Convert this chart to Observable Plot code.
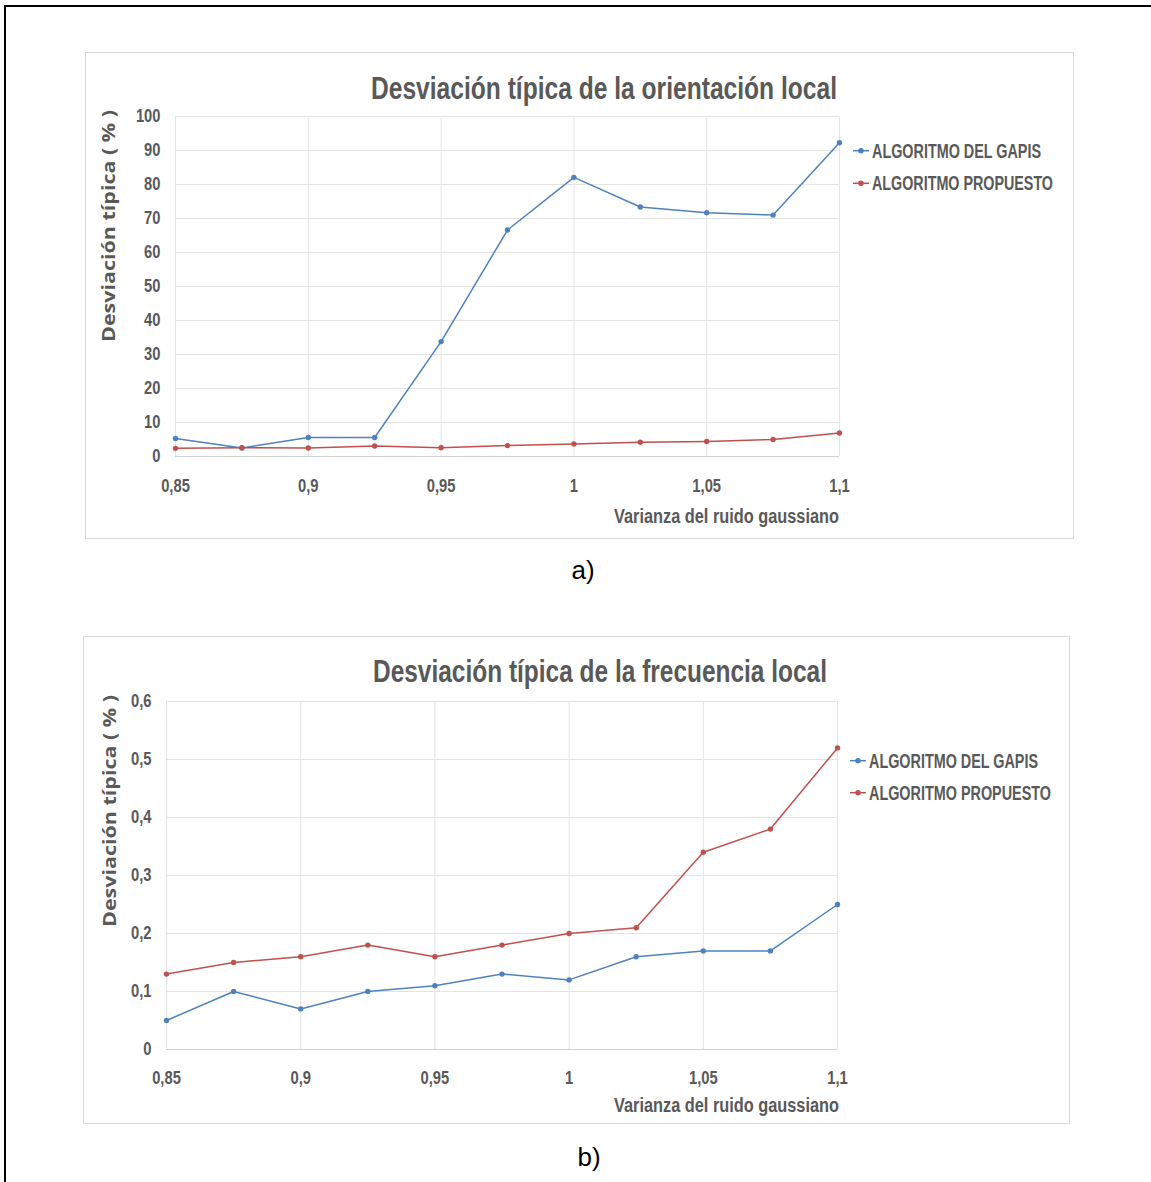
<!DOCTYPE html>
<html><head><meta charset="utf-8">
<script src="https://cdn.jsdelivr.net/npm/d3@7"></script>
<script src="https://cdn.jsdelivr.net/npm/@observablehq/plot@0.6"></script>
<style>
html,body{margin:0;padding:0;background:#fff;}
body{width:1151px;height:1182px;position:relative;overflow:hidden;font-family:"Liberation Sans",Arial,sans-serif;}
#frame{position:absolute;left:4px;top:5px;width:1300px;height:1300px;border-left:2px solid #000;border-top:2px solid #000;}
.box{position:absolute;border:1px solid #d9d9d9;box-sizing:border-box;}
.chart{position:absolute;}
.chart svg g[aria-label^="x-axis"] text,.chart svg g[aria-label^="y-axis"] text{font-weight:bold;}
.cap{position:absolute;font-size:26px;color:#000;transform:translate(-50%,-50%);font-family:"Liberation Sans",Arial,sans-serif;}
</style></head><body>
<div id="frame"></div>
<div class="box" style="left:85px;top:52px;width:989px;height:487px"></div>
<div class="chart" id="ca" style="left:85px;top:52px"></div>
<div class="cap" style="left:583px;top:570px">a)</div>
<div class="box" style="left:83px;top:636px;width:987px;height:488px"></div>
<div class="chart" id="cb" style="left:83px;top:636px"></div>
<div class="cap" style="left:589px;top:1157px">b)</div>
<script>
// ---- data ----
const varianza = [0.85, 0.875, 0.9, 0.925, 0.95, 0.975, 1, 1.025, 1.05, 1.075, 1.1];
const xTicks = [0.85, 0.9, 0.95, 1, 1.05, 1.1];
const series = ["ALGORITMO DEL GAPIS", "ALGORITMO PROPUESTO"];
const seriesColors = ["#4F81BD", "#C0504D"];

const orientGapis = [5.3, 2.5, 5.6, 5.6, 33.8, 66.6, 82.1, 73.4, 71.7, 71.0, 92.3];
const orientPropuesto = [2.4, 2.6, 2.5, 3.1, 2.6, 3.2, 3.7, 4.2, 4.4, 5.0, 6.9];
const yTicksA = [0, 10, 20, 30, 40, 50, 60, 70, 80, 90, 100];

const frecGapis = [0.05, 0.10, 0.07, 0.10, 0.11, 0.13, 0.12, 0.16, 0.17, 0.17, 0.25];
const frecPropuesto = [0.13, 0.15, 0.16, 0.18, 0.16, 0.18, 0.20, 0.21, 0.34, 0.38, 0.52];
const yTicksB = [0, 0.1, 0.2, 0.3, 0.4, 0.5, 0.6];

const titleA = "Desviación típica de la orientación local";
const titleB = "Desviación típica de la frecuencia local";
const yLabel = "Desviación típica ( % )";
const xLabel = "Varianza del ruido gaussiano";

const fmt = d => String(d).replace(".", ",");
const NARROW = "'Liberation Sans Narrow','Liberation Sans',Arial,sans-serif";
const TXT = "#595959";

function table(a, b) {
  return varianza.flatMap((x, i) => [
    {x, y: a[i], s: series[0]},
    {x, y: b[i], s: series[1]}
  ]);
}

function addText(g, str, x, y, o) {
  const t = g.append("text")
    .attr("x", x).attr("y", y)
    .attr("dy", "0.35em")
    .attr("fill", TXT)
    .attr("font-family", o.family || NARROW)
    .attr("font-size", o.size)
    .attr("font-weight", o.weight || "normal")
    .attr("text-anchor", o.anchor || "start")
    .text(str);
  if (o.len) t.attr("textLength", o.len).attr("lengthAdjust", "spacingAndGlyphs");
  if (o.rotate) t.attr("transform", `rotate(${o.rotate},${x},${y})`);
  return t;
}

function makeChart(el, cfg) {
  const svg = Plot.plot({
    width: cfg.width, height: cfg.height,
    marginLeft: cfg.ml, marginRight: cfg.mr, marginTop: cfg.mt, marginBottom: cfg.mb,
    style: {fontFamily: NARROW, fontSize: "18px", color: TXT, background: "transparent", overflow: "visible"},
    x: {domain: [0.85, 1.1], ticks: 5, tickFormat: fmt, tickSize: 0, tickPadding: cfg.xpad, label: null},
    y: {domain: cfg.ydomain, ticks: cfg.yTicks.length - 1, tickFormat: fmt, tickSize: 0, tickPadding: 15, label: null},
    color: {domain: series, range: seriesColors},
    marks: [
      Plot.ruleX(xTicks, {stroke: "#e4e4e4", strokeWidth: 1}),
      Plot.ruleY(cfg.yTicks, {stroke: "#e4e4e4", strokeWidth: 1}),
      Plot.ruleY([0], {stroke: "#d0d0d0", strokeWidth: 1.2}),
      Plot.line(cfg.data, {x: "x", y: "y", stroke: "s", strokeWidth: 1.5}),
      Plot.dot(cfg.data, {x: "x", y: "y", fill: "s", r: 2.7})
    ]
  });
  el.appendChild(svg);
  // condense tick labels like the original's narrow font
  d3.select(svg).selectAll('g[aria-label^="x-axis"] text, g[aria-label^="y-axis"] text').each(function () {
    const w = this.getComputedTextLength();
    if (w > 0) {
      this.setAttribute("textLength", (w * 0.82).toFixed(1));
      this.setAttribute("lengthAdjust", "spacingAndGlyphs");
    }
  });
  const g = d3.select(svg).append("g");
  addText(g, cfg.title, cfg.tx, cfg.ty, {size: 32, weight: "bold", anchor: "middle", len: cfg.tlen});
  addText(g, yLabel, cfg.yx, cfg.yy, {size: 17, weight: "bold", anchor: "middle", len: 232, rotate: -90, family: "'Open Sans','DejaVu Sans',sans-serif"});
  addText(g, xLabel, cfg.xx, cfg.xy, {size: 20, weight: "bold", anchor: "end", len: 225});
  series.forEach((s, i) => {
    const ly = cfg.ly[i];
    g.append("line").attr("x1", cfg.lx).attr("x2", cfg.lx + 16).attr("y1", ly).attr("y2", ly)
      .attr("stroke", seriesColors[i]).attr("stroke-width", 1.5);
    g.append("circle").attr("cx", cfg.lx + 8).attr("cy", ly).attr("r", 2.7).attr("fill", seriesColors[i]);
    addText(g, s, cfg.lx + 19, ly, {size: 20, weight: "bold", len: cfg.llen[i]});
  });
}

makeChart(document.getElementById("ca"), {
  width: 988, height: 486, ml: 90, mr: 234, mt: 64, mb: 82, xpad: 23,
  ydomain: [0, 100], yTicks: yTicksA, data: table(orientGapis, orientPropuesto),
  title: titleA, tx: 519, ty: 36, tlen: 466,
  yx: 24, yy: 174, xx: 754, xy: 464,
  lx: 768, ly: [98.7, 131.3], llen: [169, 181]
});

makeChart(document.getElementById("cb"), {
  width: 986, height: 487, ml: 83, mr: 232, mt: 65, mb: 74, xpad: 22,
  ydomain: [0, 0.6], yTicks: yTicksB, data: table(frecGapis, frecPropuesto),
  title: titleB, tx: 517, ty: 35, tlen: 454,
  yx: 27, yy: 175, xx: 756, xy: 469,
  lx: 767, ly: [124.7, 156.7], llen: [169, 182]
});
</script>
</body></html>
